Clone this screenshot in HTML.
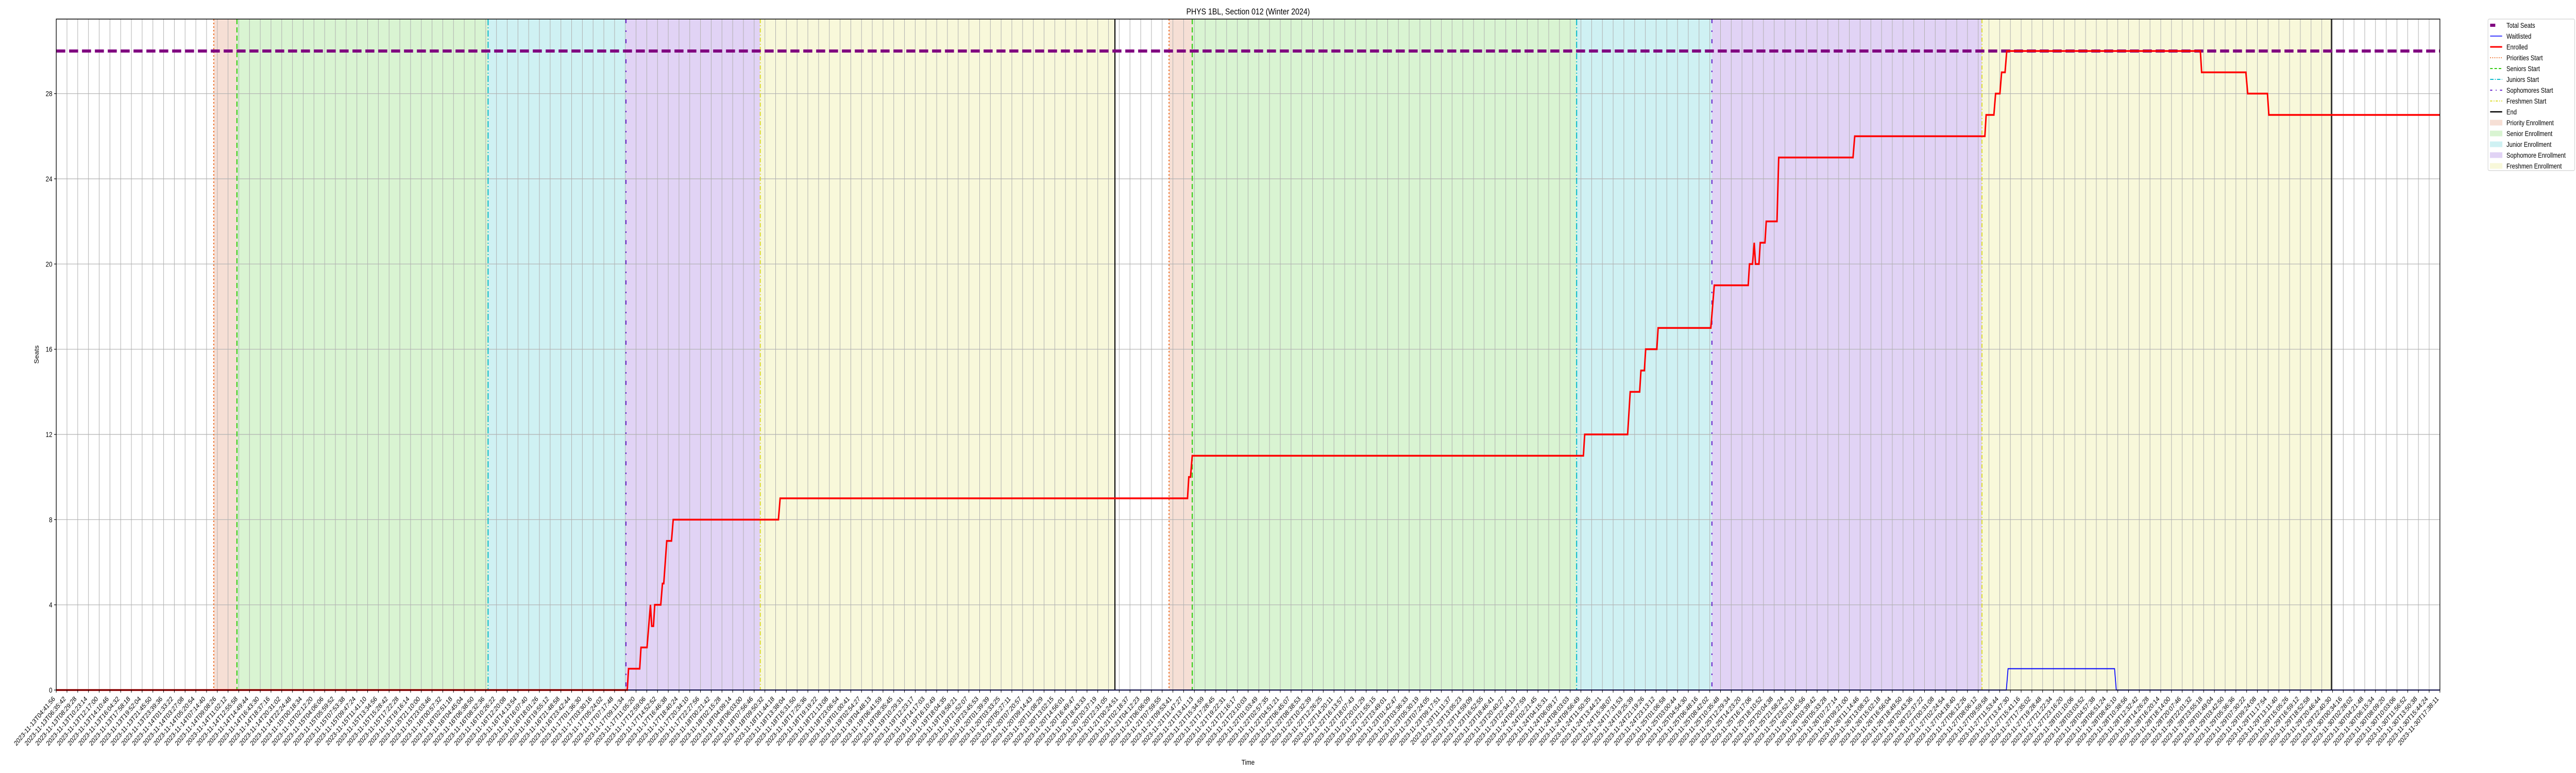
<!DOCTYPE html>
<html><head><meta charset="utf-8"><style>
html,body{margin:0;padding:0;background:#fff;width:100%;height:100%;overflow:hidden;}
svg{display:block;width:100vw;height:100vh;font-family:"Liberation Sans","DejaVu Sans",sans-serif;}
</style></head><body>
<svg id="chart" viewBox="0 0 6000 1500" preserveAspectRatio="none" xmlns="http://www.w3.org/2000/svg">
<rect width="6000" height="1500" fill="#fff"/>
<text x="2907" y="28" font-size="17" text-anchor="middle" fill="#000">PHYS 1BL, Section 012 (Winter 2024)</text>
<g id="spans"></g>
<g id="grid"></g>
<g id="vlines"></g>
<g id="series"></g>
<g id="axes"></g>
<text x="2907" y="1484" font-size="14" text-anchor="middle">Time</text>
<text x="0" y="0" font-size="14" text-anchor="middle" transform="translate(90,688) rotate(-90)">Seats</text>
<g id="legend"></g>
</svg>
<script>
// ---- data (x in tick-index units, 0..222) ----
const enrolledX = [0,53.18,53.30,54.34,54.46,55.02,55.34,55.46,55.62,55.74,56.30,56.46,56.58,56.86,57.30,57.46,67.26,67.42,105.36,105.48,105.64,105.80,142.23,142.35,146.35,146.59,147.47,147.59,147.91,148.03,149.07,149.19,154.10,154.42,157.58,157.70,157.98,158.14,158.26,158.58,158.70,159.14,159.26,160.26,160.42,167.34,167.50,179.62,179.74,180.46,180.62,181.02,181.18,181.50,181.66,199.69,199.81,203.93,204.10,205.94,206.07,222];
const enrolledY = [0,0,1,1,2,2,4,3,3,4,4,5,5,7,7,8,8,9,9,10,10,11,11,12,12,14,14,15,15,16,16,17,17,19,19,20,20,21,20,20,21,21,22,22,25,25,26,26,27,27,28,28,29,29,30,30,29,29,28,28,27,27];
const waitX = [0,181.62,181.78,191.70,191.86,222];
const waitY = [0,0,1,1,0,0];
const totalSeats = [30];
const yTicks = [0,4,8,12,16,20,24,28];
const spanNames = ["priority","senior","junior","sophomore","freshman"];
const spanStarts1 = [14.67,16.83,40.22,53.06,65.57];
const spanEnds1 = [16.83,40.22,53.06,65.57,98.6];
const spanStarts2 = [103.64,105.8,141.6,154.2,179.35];
const spanEnds2 = [105.8,141.6,154.2,179.35,211.9];
const endLines = [98.6,211.9];
const tickStart = "2023-11-13T04:41:56";
const tickEnd = "2023-11-30T17:38:11";
const nTicks = 223;

const NS="http://www.w3.org/2000/svg";
const L=131,R=5683,T=37,B=1339,YMAX=31.5,XMAX=222;
function X(i){return L+i*(R-L)/XMAX;}
function Y(v){return B-v*(B-T)/YMAX;}
function mk(tag,attrs,parent){const e=document.createElementNS(NS,tag);for(const k in attrs)e.setAttribute(k,attrs[k]);parent.appendChild(e);return e;}
const g=id=>document.getElementById(id);

const spanColors=["#f6dfd5","#d9f4d2","#cff1f3","#e1d3f5","#f8f8da"];
const lineColors=["#ee7733","#33cc11","#11bbcc","#6622cc","#dddd33"];
const lineDash=["3,4","10,6","12,4,2,4","8,14,3,14","8,4,2,4"];
[[spanStarts1,spanEnds1],[spanStarts2,spanEnds2]].forEach(([s,e],c)=>{
  s.forEach((x0,k)=>{
    const r=mk('rect',{x:X(x0),y:T,width:X(e[k])-X(x0),height:B-T,fill:spanColors[k]},g('spans'));
    
    
    const l=mk('line',{x1:X(x0),x2:X(x0),y1:T,y2:B,stroke:lineColors[k],'stroke-width':2.5,'stroke-dasharray':lineDash[k]},g('vlines'));
    
    
  });
});
endLines.forEach((x0,c)=>{
  const l=mk('line',{x1:X(x0),x2:X(x0),y1:T,y2:B,stroke:"#000",'stroke-width':2.5},g('vlines'));
  
  
});

// grid + ticks
const t0=Date.parse(tickStart+"Z"),t1=Date.parse(tickEnd+"Z");
for(let i=0;i<nTicks;i++){
  const x=X(i);
  const gl=mk('line',{x1:x,x2:x,y1:T,y2:B,stroke:"#b0b0b0","stroke-width":1.2},g('grid'));
  
  
  mk('line',{x1:x,x2:x,y1:B,y2:B+5,stroke:"#000","stroke-width":1.2},g('axes'));
  const d=new Date(t0+(t1-t0)*i/(nTicks-1)).toISOString().slice(0,19);
  const tx=mk('text',{x:0,y:0,'font-size':13.5,'text-anchor':'end',transform:`translate(${x-2},${B+18}) rotate(-45)`},g('axes'));
  tx.textContent=d;
  
  
}
yTicks.forEach(v=>{
  const y=Y(v);
  const gl=mk('line',{x1:L,x2:R,y1:y,y2:y,stroke:"#b0b0b0","stroke-width":1.2},g('grid'));
  
  
  mk('line',{x1:L-5,x2:L,y1:y,y2:y,stroke:"#000","stroke-width":1.2},g('axes'));
  const tx=mk('text',{x:L-9,y:y+5,'font-size':14,'text-anchor':'end'},g('axes'));
  tx.textContent=v;
  
  
});
const frame=mk('rect',{x:L,y:T,width:R-L,height:B-T,fill:"none",stroke:"#000","stroke-width":1.5},g('axes'));



// series
const ts=mk('line',{x1:L,x2:R,y1:Y(totalSeats[0]),y2:Y(totalSeats[0]),stroke:"#800080","stroke-width":6,"stroke-dasharray":"21,9"},g('series'));


const wl=mk('polyline',{points:waitX.map((x,i)=>X(x)+","+Y(waitY[i])).join(" "),fill:"none",stroke:"#0000ff","stroke-width":2},g('series'));


const el=mk('polyline',{points:enrolledX.map((x,i)=>X(x)+","+Y(enrolledY[i])).join(" "),fill:"none",stroke:"#ff0000","stroke-width":3.5,"stroke-linejoin":"miter"},g('series'));



// legend
const lg=g('legend');
const box=mk('rect',{x:5795,y:37,width:202,height:294,rx:3,fill:"#fff",stroke:"#d0d0d0","stroke-width":1.2},lg);


const entries=[
 ["Total Seats","line","#800080",6,"12,100"],
 ["Waitlisted","line","#0000ff",1.5,""],
 ["Enrolled","line","#ff0000",3,""],
 ["Priorities Start","line","#ee7733",2,"2,3"],
 ["Seniors Start","line","#33cc11",2,"6,4"],
 ["Juniors Start","line","#11bbcc",2,"8,3,2,3"],
 ["Sophomores Start","line","#6622cc",2,"5,8,2,8"],
 ["Freshmen Start","line","#dddd33",2,"5,3,2,3"],
 ["End","line","#000",2.5,""],
 ["Priority Enrollment","rect",spanColors[0]],
 ["Senior Enrollment","rect",spanColors[1]],
 ["Junior Enrollment","rect",spanColors[2]],
 ["Sophomore Enrollment","rect",spanColors[3]],
 ["Freshmen Enrollment","rect",spanColors[4]]
];
entries.forEach((e,k)=>{
  const y=49+k*21;
  const grp=mk('g',{},lg);
  
  
  if(e[1]==="line"){
    const a={x1:5800,x2:5828,y1:y,y2:y,stroke:e[2],"stroke-width":e[3]};
    if(e[4])a["stroke-dasharray"]=e[4];
    mk('line',a,grp);
  } else {
    mk('rect',{x:5800,y:y-5,width:28,height:10,fill:e[2],stroke:e[2]},grp);
  }
  const t=mk('text',{x:5838,y:y+5,'font-size':13.5},grp);
  t.textContent=e[0];
});
</script>
</body></html>
